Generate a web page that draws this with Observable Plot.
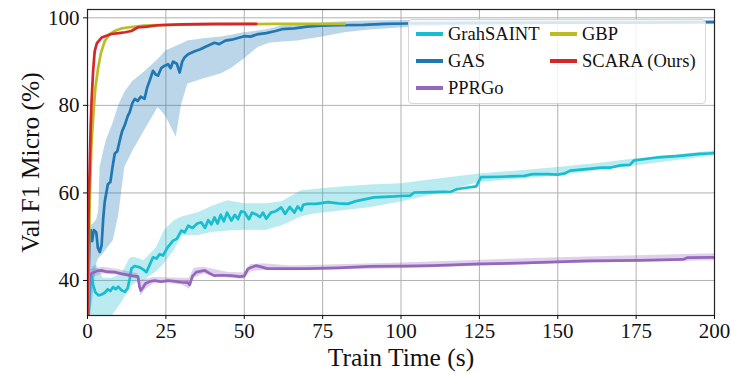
<!DOCTYPE html>
<html>
<head>
<meta charset="utf-8">
<script src="https://cdn.jsdelivr.net/npm/d3@7"></script>
<script src="https://cdn.jsdelivr.net/npm/@observablehq/plot@0.6"></script>
<style>
  html, body { margin: 0; padding: 0; background: #fff; }
  #wrap { position: relative; width: 731px; height: 373px; font-family: "Liberation Serif", serif; }
  #chart svg, #chart svg text { font-family: "Liberation Serif", serif !important; }
  #chart svg g[aria-label="x-axis tick label"] text,
  #chart svg g[aria-label="y-axis tick label"] text { font-size: 21px; }
  #chart svg g[aria-label="x-axis label"] text,
  #chart svg g[aria-label="y-axis label"] text { font-size: 25.5px; }
  #legend { position: absolute; left: 408px; top: 19px; width: 296px; height: 83px;
    border: 1px solid #d6d6d6; border-radius: 4px; background: rgba(255,255,255,0.82);
    font-size: 18.5px; color: #111; }
  .item { position: absolute; display: flex; align-items: center; height: 20px; }
  .sw { width: 27px; height: 4px; margin-right: 5px; }
</style>
</head>
<body>
<div id="wrap"><div id="chart"></div><div id="legend"></div></div>
<script>
// ---------- data ----------
const seriesNames = ["GrahSAINT", "GAS", "PPRGo", "GBP", "SCARA (Ours)"];
const seriesColors = ["#17becf", "#1f77b4", "#9467bd", "#bcbd22", "#d62728"];
const xTicks = [0, 25, 50, 75, 100, 125, 150, 175, 200];
const yTicks = [40, 60, 80, 100];

// GraphSAINT
const saintT = [0.3,0.8,1.3,1.8,2.5,3.5,4.5,5.5,6.5,7.3,8.2,9.0,9.8,10.8,11.9,12.8,13.5,14.0,15.0,16.7,17.8,18.8,19.8,20.9,22.0,23.0,24.1,25.5,27.3,28.5,29.9,31.0,32.1,33.5,35.0,36.3,37.5,38.5,39.5,40.5,41.5,42.5,43.5,44.5,45.9,47.0,48.0,49.0,50.1,51.5,52.5,54.0,55.0,56.0,57.0,58.5,60.0,61.8,63.0,64.5,66.0,67.0,68.2,68.8,70.3,73,76.7,80,83,86,91.4,95,98,100,103,104.2,110,116,118,122,124,125.5,132,139.3,142,146.7,150,152,154,160,164,166.9,170,173,174.3,181.7,188,195.5,198,200];
const saintY = [32,38,41,39,37.3,36.6,36.8,37.2,38.0,37.6,38.5,38.0,38.6,37.8,37.4,38.2,40.5,42.7,43.3,43.0,42.5,41.9,43.5,45.3,45.0,46.0,45.7,47.5,49.1,49.5,51.4,51.0,52.5,52.0,53.0,53.3,52.0,53.8,52.8,54.4,53.0,55.0,53.5,55.5,53.7,55.0,54.0,55.8,55.6,54.0,55.5,55.0,54.5,55.5,54.1,55.5,55.8,56.7,55.2,56.8,55.5,56.9,56.0,57.3,57.5,57.5,57.9,57.6,57.5,58.2,59.0,59.1,59.2,59.3,59.4,60.1,60.2,60.3,60.9,61.3,61.5,63.6,63.7,63.9,64.3,64.3,64.2,64.4,65.1,65.5,65.8,65.8,66.3,66.4,67.4,68.1,68.4,68.9,69.0,69.1];
const saintBandT = [0,1.5,3,5,8,11,13.5,15,18,22,24.6,27.8,30.2,35.5,40,44.8,50,57,62,68.2,72.4,80,90,100,110,125,140,150,165,175,200];
const saintLo = [32,32,32,32,32,35,38,39.3,40,42,43.9,47,50.3,50.3,51,51.3,51.5,51.4,52.5,54.5,55.2,55.8,56.6,57.9,59.5,62.4,63.3,63.9,65.3,66.2,68.5];
const saintHi = [32,43,43.5,40.5,40.5,41.5,45,45.3,44.5,47.5,51.5,53.7,54.5,55.5,57,58.2,57.5,57.5,58,60.5,60.8,61.3,61.8,62.1,63.0,64.3,65.2,65.8,66.9,67.8,69.6];

// GAS
const gasT = [0,0.3,0.7,1.0,1.5,2.0,2.8,3.3,3.9,4.5,5.0,5.5,6.5,7.3,8.0,8.7,9.5,10.3,11.0,11.9,12.8,13.5,14.3,15.1,16.0,17.0,18.2,19.0,20.0,20.9,21.8,22.5,23.5,24.5,25.7,26.5,27.3,28.5,29.4,30.2,31.0,32.1,34,36,38,40.5,42,44,46,48,50,52,54,57,60,62,66,70,74.5,80,88,95,102,120,150,175,200];
const gasY = [32,40,50,51.5,49,51.5,51,47.5,46.5,48,54,58,62,62.5,66,69,69.5,72,74,75.5,77.5,78.5,80.5,81.5,81,82,81.5,84,86,87.9,87,86.8,88.5,89,89.4,88.5,90,89.5,87.5,90,91,91.7,92.3,92.8,93.5,94.3,94.0,94.8,95.0,95.4,95.8,95.7,96.2,96.5,97.0,97.4,97.6,98.0,98.2,98.3,98.4,98.6,98.7,98.8,98.9,98.9,99.0];
const gasBandT = [0,1,2,3,3.6,4,5,6,8.2,10,11.9,14.5,18,22.5,25,28.3,30,32,37,42.7,46,50,54.4,58,62,67,75,82,90,102,120,150,200];
const gasLo = [32,32,38,44,45,45.3,46,47,49.1,55,65.8,69.6,74,79.5,77.5,72.7,80,84.9,86,87.2,88.5,90.6,93.2,94.2,94.5,94.7,95.6,96.6,97.2,97.8,98.3,98.5,98.6];
const gasHi = [32,52.5,53,54,56,65.8,69,72,76,80,83,85.5,87.5,90.5,92.4,93.5,94,94.7,95.2,95.6,96,96.6,97,97.4,98.2,98.4,98.8,99.1,99.3,99.4,99.4,99.4,99.4];

// PPRGo
const pprT = [0.3,0.6,1.0,2.0,3.0,4.5,6.0,8.7,11,14.0,16.1,16.6,17.0,17.8,18.5,20.0,21.4,23.5,25.7,28.0,29.9,32.0,32.6,33.5,34.7,37.4,39.0,40.5,43.0,45.9,48.5,50.0,51.2,53.8,56.0,57.3,63.9,70,80,90,100,110,125.5,140,159.6,176,190,191.3,200];
const pprY = [32,40,41.5,41.8,42.2,42.3,42.0,41.9,41.5,41.1,40.9,38.5,37.7,38.5,39.3,39.8,40.0,39.7,40.0,39.8,39.6,39.5,39.0,41.0,41.9,42.3,41.6,41.1,41.2,41.1,40.9,41.0,42.7,43.4,43.0,42.7,42.7,42.7,42.9,43.2,43.3,43.4,43.8,44.0,44.5,44.6,44.8,45.2,45.3];
const pprBandT = [0.3,1,5,10,14,16,17,18.5,21,25,30,32.5,34,37,45,50,52,56,65,100,150,200];
const pprLo = [32,40.5,41.5,41.2,40.6,40.2,36.5,37.8,39.2,39.3,39.0,38,40.5,41.5,40.5,40.3,42.0,42.3,42.2,42.7,43.8,44.5];
const pprHi = [41.5,42.5,43.0,42.5,41.8,41.6,40,40.3,40.7,40.6,40.5,40.5,42.8,43.0,41.8,41.7,43.6,43.8,43.3,44,45.2,46.1];

// GBP
const gbpT = [0,0.3,0.7,1.2,1.8,2.5,3.4,4.3,5.5,7,8.7,11,14,18,25.7,40,60,82];
const gbpY = [32,40,58,70,77.2,84,88.6,92,94.7,96.2,97.0,97.6,97.9,98.2,98.4,98.5,98.6,98.6];

// SCARA (Ours)
const scaraT = [0,0.2,0.4,0.7,1.0,1.3,1.8,2.3,3.0,4.5,7.6,10,12,14,16,19,22.5,30,40,53.8];
const scaraY = [32,45,58,65.8,75,81,88,92.4,94.2,95.5,96.3,96.5,96.7,97.0,97.8,98.0,98.3,98.5,98.6,98.6];

// ---------- build tables ----------
const pts = (T, Y) => T.map((t, i) => ({t, y: Y[i]}));
const band = (T, L, H) => T.map((t, i) => ({t, lo: L[i], hi: H[i]}));

const lines = [pts(saintT, saintY), pts(gasT, gasY), pts(pprT, pprY), pts(gbpT, gbpY), pts(scaraT, scaraY)];
const bands = [band(saintBandT, saintLo, saintHi), band(gasBandT, gasLo, gasHi), band(pprBandT, pprLo, pprHi)];

const marks = [
  Plot.gridX(xTicks, {stroke: "#b0b0b0", strokeOpacity: 1, strokeWidth: 1}),
  Plot.gridY(yTicks, {stroke: "#b0b0b0", strokeOpacity: 1, strokeWidth: 1}),
];
bands.forEach((b, i) => marks.push(Plot.areaY(b, {x: "t", y1: "lo", y2: "hi", fill: seriesColors[i], fillOpacity: 0.3, clip: true})));
lines.forEach((l, i) => marks.push(Plot.line(l, {x: "t", y: "y", stroke: seriesColors[i], strokeWidth: 2.7, strokeLinejoin: "round", clip: true})));
marks.push(
  Plot.frame({stroke: "#222", strokeWidth: 1.2}),
  Plot.axisX({ticks: xTicks, tickSize: 4, tickPadding: 4, fontSize: 21, label: "Train Time (s)", labelAnchor: "center", labelArrow: "none", labelOffset: 50}),
  Plot.axisY({ticks: yTicks, tickSize: 4, tickPadding: 4, fontSize: 21, label: "Val F1 Micro (%)", labelAnchor: "center", labelArrow: "none", labelOffset: 67})
);

const chart = Plot.plot({
  width: 731, height: 373,
  marginLeft: 87, marginRight: 17, marginTop: 9, marginBottom: 58,
  x: {domain: [0, 200]},
  y: {domain: [32, 101.9]},
  style: {fontFamily: "Liberation Serif", fontSize: "21px", color: "#111", background: "#fff"},
  marks
});
document.getElementById("chart").appendChild(chart);

// ---------- legend ----------
const legend = document.getElementById("legend");
const pos = [[7, 4], [7, 31], [7, 58], [141, 4], [141, 31]];
seriesNames.forEach((name, i) => {
  const it = document.createElement("div");
  it.className = "item";
  it.style.left = pos[i][0] + "px";
  it.style.top = pos[i][1] + "px";
  it.innerHTML = `<div class="sw" style="background:${seriesColors[i]}"></div><span>${name}</span>`;
  legend.appendChild(it);
});
</script>
</body>
</html>
